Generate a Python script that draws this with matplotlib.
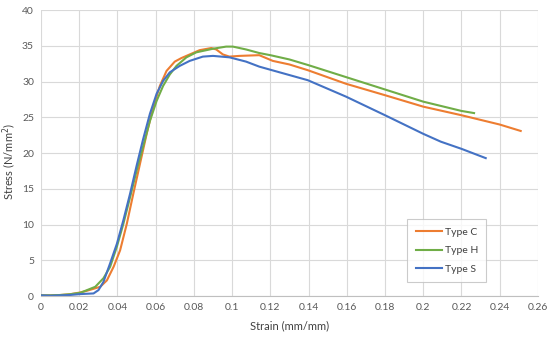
import matplotlib
matplotlib.use("Agg")
import matplotlib.pyplot as plt
from matplotlib.ticker import FuncFormatter

plt.rcParams['font.family'] = ['Lato', 'DejaVu Sans']

# Type C (orange)
strain_c = [0.0, 0.005, 0.01, 0.015, 0.0204, 0.024, 0.031, 0.0345, 0.038, 0.0414, 0.0449,
            0.0483, 0.0518, 0.0553, 0.0587, 0.0622, 0.0657, 0.070, 0.0735, 0.0778, 0.083,
            0.0891, 0.0917, 0.0952, 0.0986, 0.1038, 0.1142, 0.1213, 0.13, 0.1396, 0.1596,
            0.18, 0.2, 0.22, 0.24, 0.251]
stress_c = [0.1, 0.1, 0.15, 0.25, 0.5, 0.74, 1.3, 2.2, 4.1, 6.4, 10.1,
            14.3, 18.5, 22.7, 26.4, 29.4, 31.5, 32.8, 33.3, 33.8, 34.4,
            34.7, 34.5, 33.8, 33.5, 33.6, 33.7, 32.9, 32.4, 31.6, 29.7,
            28.1, 26.5, 25.3, 24.0, 23.1]

# Type H (green)
strain_h = [0.0, 0.005, 0.01, 0.015, 0.0206, 0.0284, 0.0327, 0.0362, 0.0397, 0.0431, 0.0466,
            0.0501, 0.0535, 0.057, 0.0605, 0.0639, 0.0674, 0.0709, 0.0761, 0.0813, 0.09,
            0.0969, 0.1004, 0.1073, 0.1142, 0.12, 0.13, 0.14, 0.16, 0.18, 0.2, 0.22, 0.2266]
stress_h = [0.1, 0.1, 0.15, 0.25, 0.46, 1.3, 2.5, 4.1, 6.9, 10.1, 13.8,
            17.6, 21.0, 24.5, 27.3, 29.4, 31.0, 32.2, 33.4, 34.1, 34.6,
            34.9, 34.9, 34.5, 34.0, 33.7, 33.1, 32.3, 30.6, 28.9, 27.2, 25.9, 25.6]

# Type S (blue)
strain_s = [0.0, 0.005, 0.01, 0.015, 0.0206, 0.0275, 0.0301, 0.0327, 0.0362, 0.0397, 0.0431,
            0.0466, 0.0501, 0.0535, 0.057, 0.0605, 0.0639, 0.0674, 0.0726, 0.0778, 0.0847,
            0.09, 0.0986, 0.1073, 0.1142, 0.1222, 0.1396, 0.1596, 0.18, 0.2, 0.2092, 0.22,
            0.2327]
stress_s = [0.1, 0.05, 0.1, 0.15, 0.28, 0.37, 0.84, 2.0, 4.6, 7.3, 10.6,
            14.3, 18.3, 22.0, 25.5, 28.3, 30.1, 31.3, 32.2, 32.9, 33.5,
            33.6, 33.4, 32.8, 32.1, 31.5, 30.2, 27.9, 25.3, 22.7, 21.6, 20.6,
            19.3]

labels = ["Type C", "Type H", "Type S"]
colors = ["#ED7D31", "#70AD47", "#4472C4"]

fig = plt.figure(figsize=(5.5, 3.38), dpi=100)
ax = fig.add_axes([0.0745, 0.124, 0.9035, 0.846])

for xs, ys, lab, col in zip([strain_c, strain_h, strain_s],
                            [stress_c, stress_h, stress_s], labels, colors):
    ax.plot(xs, ys, color=col, lw=1.5, label=lab)

ax.set_xlim(0, 0.26)
ax.set_ylim(0, 40)
ax.set_xticks([i * 0.02 for i in range(14)])
ax.set_yticks(range(0, 41, 5))
ax.xaxis.set_major_formatter(FuncFormatter(lambda v, p: f"{round(v, 2):g}"))
ax.grid(True, color="#d9d9d9", lw=0.8)
ax.set_axisbelow(True)
for s in ["top", "right", "left"]:
    ax.spines[s].set_visible(False)
ax.spines["bottom"].set_color("#bfbfbf")
ax.tick_params(length=0, labelsize=7.5, colors="#595959", pad=5)
ax.set_xlabel("Strain (mm/mm)", fontsize=8, color="#404040")
ax.set_ylabel("Stress (N/mm$^2$)", fontsize=8, color="#404040")
ax.xaxis.set_label_coords(0.5, -0.085)
ax.yaxis.set_label_coords(-0.046, 0.47)

leg = ax.legend(loc="lower right", bbox_to_anchor=(0.907, 0.03), fontsize=7.5,
                frameon=True, fancybox=False, edgecolor="#bfbfbf",
                handlelength=2.5, labelspacing=0.9, borderpad=0.8, handletextpad=0.3)
leg.get_frame().set_linewidth(0.8)
for t in leg.get_texts():
    t.set_color("#404040")

fig.savefig("out.png", dpi=100)
